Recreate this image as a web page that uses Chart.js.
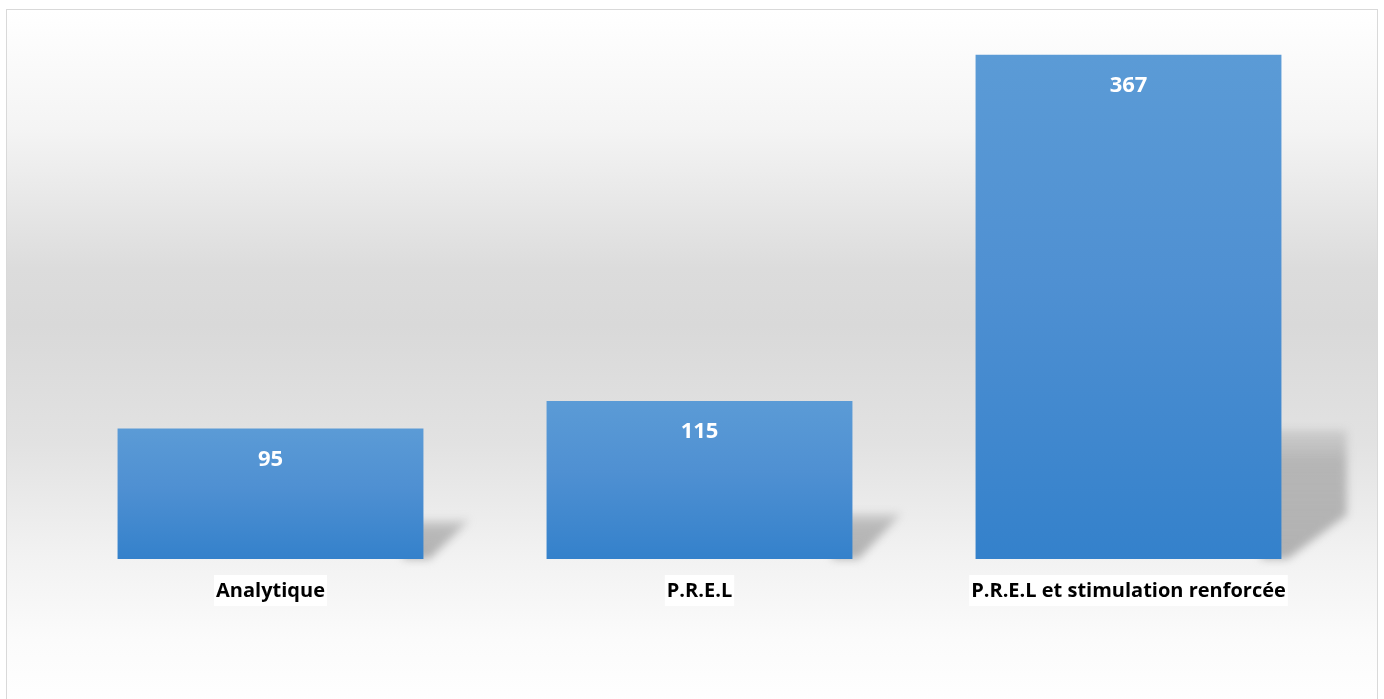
<!DOCTYPE html>
<html>
<head>
<meta charset="utf-8">
<script src="https://cdn.jsdelivr.net/npm/chart.js@4"></script>
<style>
  html, body { margin: 0; padding: 0; background: #ffffff; }
  #frame {
    position: absolute; left: 6px; top: 9px;
    width: 1370px; height: 700px;
    border: 1px solid #d9d9d9; border-bottom: none;
    background: linear-gradient(to bottom, #ffffff 0%, #f4f4f4 17%, #dcdcdc 37%, #d9d9d9 45%, #e2e2e2 62%, #f2f2f2 78%, #fbfbfb 90%, #ffffff 100%);
  }
  #wrap { position: absolute; left: 1px; top: 1px; width: 1369px; height: 690px; }
</style>
</head>
<body>
<div id="frame"><div id="wrap"><canvas id="chart"></canvas></div></div>
<script>
// Chart values
const categories = ["Analytique", "P.R.E.L", "P.R.E.L et stimulation renforcée"];
const values = [95, 115, 367];
const yMax = 380;

const fontFamily = "'Open Sans', 'Noto Sans', sans-serif";

// Soft perspective shadow behind each bar
const barShadow = {
  id: "barShadow",
  beforeDatasetsDraw(chart) {
    const ctx = chart.ctx;
    chart.getDatasetMeta(0).data.forEach((bar) => {
      const right = bar.x + bar.width / 2;
      const bottom = bar.base;
      const h = bottom - bar.y;
      const sh = 0.24 * h + 8;
      const dx = 40 + 0.05 * h;
      const cut = Math.min(sh, 44);
      ctx.save();
      ctx.filter = "blur(4px)";
      const g = ctx.createLinearGradient(0, bottom - sh, 0, bottom);
      g.addColorStop(0, "rgba(150,150,150,0.25)");
      g.addColorStop(0.25, "rgba(150,150,150,0.6)");
      g.addColorStop(1, "rgba(150,150,150,0.7)");
      ctx.fillStyle = g;
      ctx.beginPath();
      ctx.moveTo(right - 20, bottom);
      ctx.lineTo(right - 20, bottom - sh);
      ctx.lineTo(right + dx, bottom - sh);
      ctx.lineTo(right + dx, bottom - cut);
      ctx.lineTo(right + 6, bottom);
      ctx.closePath();
      ctx.fill();
      ctx.restore();
    });
  }
};

// White value labels inside the top of each bar
const valueLabels = {
  id: "valueLabels",
  afterDatasetsDraw(chart) {
    const ctx = chart.ctx;
    ctx.save();
    ctx.fillStyle = "#ffffff";
    ctx.font = "bold 22px " + fontFamily;
    ctx.textAlign = "center";
    ctx.textBaseline = "middle";
    chart.getDatasetMeta(0).data.forEach((bar, i) => {
      ctx.fillText(String(values[i]), bar.x, bar.y + 31);
    });
    ctx.restore();
  }
};

// vertical gradient per bar, from its top down to the base line
function barGradient(context) {
  const chart = context.chart;
  const yScale = chart.scales.y;
  if (!chart.chartArea || !yScale) return "#4a8fd2";
  const top = yScale.getPixelForValue(context.raw);
  const base = yScale.getPixelForValue(0);
  if (!isFinite(top) || !isFinite(base) || top === base) return "#4a8fd2";
  const g = chart.ctx.createLinearGradient(0, top, 0, base);
  g.addColorStop(0, "#5b9bd6");
  g.addColorStop(0.45, "#4f90d2");
  g.addColorStop(1, "#3481cb");
  return g;
}

document.addEventListener("DOMContentLoaded", () => {
  const ctx = document.getElementById("chart").getContext("2d");
  new Chart(ctx, {
    type: "bar",
    data: {
      labels: categories,
      datasets: [{
        data: values,
        backgroundColor: barGradient,
        borderWidth: 0,
        categoryPercentage: 1.0,
        barPercentage: 0.713
      }]
    },
    options: {
      responsive: true,
      maintainAspectRatio: false,
      animation: false,
      layout: { padding: { left: 48, right: 34, top: 26, bottom: 86 } },
      plugins: { legend: { display: false }, tooltip: { enabled: false } },
      scales: {
        y: { display: false, min: 0, max: yMax },
        x: {
          grid: { display: false },
          border: { display: false },
          ticks: {
            color: "#000000",
            font: { family: fontFamily, size: 20, weight: "bold" },
            padding: 12,
            maxRotation: 0,
            autoSkip: false,
            showLabelBackdrop: true,
            backdropColor: "#ffffff",
            backdropPadding: { left: 2, right: 2, top: 4, bottom: 3 }
          }
        }
      }
    },
    plugins: [barShadow, valueLabels]
  });
});
</script>
</body>
</html>
